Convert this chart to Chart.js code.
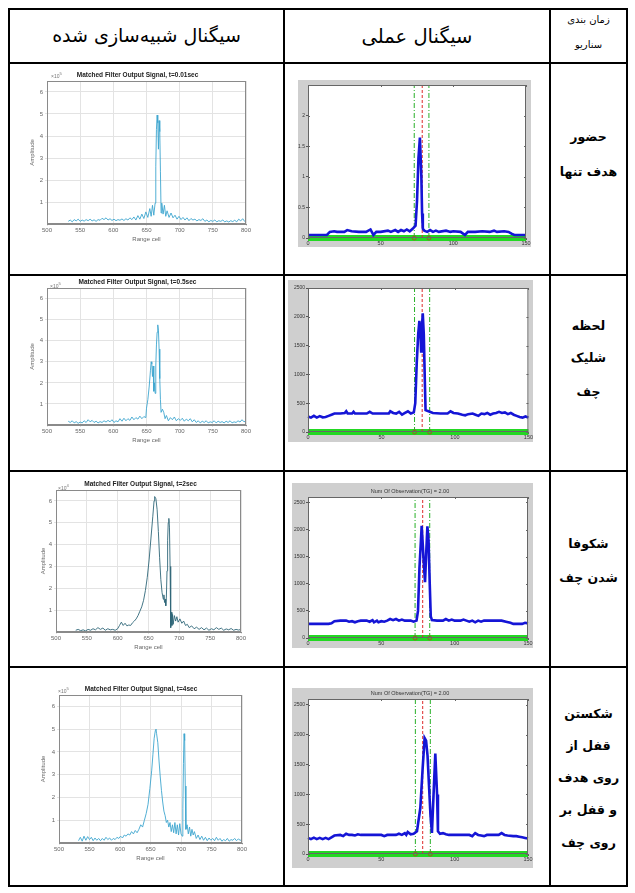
<!DOCTYPE html>
<html lang="fa">
<head>
<meta charset="utf-8">
<script src="https://cdn.jsdelivr.net/npm/chart.js@4.4.1/dist/chart.umd.min.js"></script>
<style>
html, body { margin: 0; padding: 0; background: #fff; width: 635px; height: 893px; overflow: hidden; }
#page { position: relative; width: 635px; height: 893px; }
.ln { position: absolute; background: #000; }
.txt { position: absolute; font-family: "DejaVu Sans", sans-serif; color: #000; direction: rtl; text-align: center; white-space: nowrap; }
.side { font-weight: bold; font-size: 12.5px; line-height: 20px; height: 20px; left: 551px; width: 75px; }
.exp { position: absolute; font: 5px "Liberation Sans", sans-serif; color: #777; }
canvas { position: absolute; }
.meas { background: #cfcfcf; }
</style>
</head>
<body>
<div id="page">
  <!-- grille du tableau -->
  <div class="ln" style="left:8px;top:8px;width:620px;height:2px"></div>
  <div class="ln" style="left:8px;top:62px;width:620px;height:2px"></div>
  <div class="ln" style="left:8px;top:274px;width:620px;height:2px"></div>
  <div class="ln" style="left:8px;top:470px;width:620px;height:2px"></div>
  <div class="ln" style="left:8px;top:666px;width:620px;height:2px"></div>
  <div class="ln" style="left:8px;top:885px;width:620px;height:2px"></div>
  <div class="ln" style="left:8px;top:8px;width:2px;height:879px"></div>
  <div class="ln" style="left:283px;top:8px;width:2px;height:879px"></div>
  <div class="ln" style="left:549px;top:8px;width:2px;height:879px"></div>
  <div class="ln" style="left:626px;top:8px;width:2px;height:879px"></div>

  <!-- en-têtes -->
  <div class="txt" style="left:10px;width:273px;top:22px;font-size:19px;line-height:26px">سیگنال شبیه‌سازی شده</div>
  <div class="txt" style="left:285px;width:264px;top:24px;font-size:19.5px;line-height:26px">سیگنال عملی</div>
  <div class="txt" style="left:551px;width:75px;top:12px;font-size:10px;line-height:16px">زمان بندی</div>
  <div class="txt" style="left:551px;width:75px;top:37px;font-size:10px;line-height:16px">سناریو</div>

  <!-- scénarios -->
  <div class="txt side" style="top:127px">حضور</div>
  <div class="txt side" style="top:162px">هدف تنها</div>
  <div class="txt side" style="top:316px">لحظه</div>
  <div class="txt side" style="top:348px">شلیک</div>
  <div class="txt side" style="top:382px">چف</div>
  <div class="txt side" style="top:534px">شکوفا</div>
  <div class="txt side" style="top:568px">شدن چف</div>
  <div class="txt side" style="top:704px">شکستن</div>
  <div class="txt side" style="top:736px">قفل از</div>
  <div class="txt side" style="top:768px">روی هدف</div>
  <div class="txt side" style="top:800px">و قفل بر</div>
  <div class="txt side" style="top:833px">روی چف</div>

  <canvas id="sim1"></canvas>
  <canvas id="sim2"></canvas>
  <canvas id="sim3"></canvas>
  <canvas id="sim4"></canvas>
  <canvas id="meas1" class="meas"></canvas>
  <canvas id="meas2" class="meas"></canvas>
  <canvas id="meas3" class="meas"></canvas>
  <canvas id="meas4" class="meas"></canvas>

  <span class="exp" style="left:51px;top:71px">×10<sup>5</sup></span>
  <span class="exp" style="left:50px;top:281px">×10<sup>5</sup></span>
  <span class="exp" style="left:58px;top:483px">×10<sup>4</sup></span>
  <span class="exp" style="left:58px;top:686px">×10<sup>5</sup></span>
</div>

<script>
// ==================== DONNÉES : SIGNAL SIMULÉ (range cell, amplitude) ====================
const simTitles = [
    "Matched Filter Output Signal, t=0.01sec",
    "Matched Filter Output Signal, t=0.5sec",
    "Matched Filter Output Signal, t=2sec",
    "Matched Filter Output Signal, t=4sec"
];
const simXTicks = [500, 550, 600, 650, 700, 750, 800];
const simYTicks = [1, 2, 3, 4, 5, 6];

const simT001 = [
    [532,0.12],[535,0.18],[538,0.1],[541,0.2],[544,0.14],[547,0.22],[550,0.12],[553,0.18],[556,0.13],[559,0.2],
    [562,0.15],[565,0.22],[568,0.14],[571,0.19],[574,0.12],[577,0.2],[580,0.17],[583,0.26],[586,0.2],[589,0.28],
    [592,0.18],[595,0.24],[598,0.16],[601,0.22],[604,0.15],[607,0.2],[610,0.17],[613,0.23],[616,0.16],[619,0.24],
    [622,0.18],[625,0.28],[628,0.2],[631,0.32],[634,0.18],[637,0.38],[640,0.22],[643,0.45],[646,0.25],[649,0.55],
    [652,0.3],[655,0.7],[657,0.35],[659,0.85],[661,0.4],[663,0.95],[664,2.6],[665,4.3],[666,4.95],[667,4.6],
    [668,3.4],[669,4.7],[670,4.2],[671,2.4],[672,0.5],[673,0.95],[675,0.45],[677,0.85],[679,0.35],[681,0.6],
    [684,0.3],[687,0.5],[690,0.28],[693,0.4],[696,0.22],[699,0.35],[702,0.2],[705,0.3],[708,0.18],[711,0.28],
    [714,0.15],[717,0.25],[720,0.18],[723,0.22],[726,0.14],[729,0.2],[732,0.16],[735,0.24],[738,0.12],[741,0.18],
    [744,0.1],[747,0.16],[750,0.12],[753,0.18],[756,0.1],[759,0.15],[762,0.12],[765,0.18],[768,0.1],[771,0.14],
    [774,0.09],[777,0.15],[780,0.11],[783,0.17],[786,0.1],[789,0.22],[792,0.14],[795,0.24],[798,0.12],[800,0.15]
];

const simT05 = [
    [532,0.18],[535,0.12],[538,0.2],[541,0.1],[544,0.16],[547,0.08],[550,0.14],[553,0.1],[556,0.2],[559,0.12],
    [562,0.25],[565,0.15],[568,0.22],[571,0.12],[574,0.18],[577,0.1],[580,0.16],[583,0.12],[586,0.2],[589,0.14],
    [592,0.22],[595,0.15],[598,0.25],[601,0.12],[604,0.2],[607,0.15],[610,0.3],[613,0.18],[616,0.32],[619,0.2],
    [622,0.3],[625,0.22],[628,0.38],[631,0.25],[634,0.35],[637,0.28],[640,0.42],[643,0.3],[646,0.4],[649,0.35],
    [650,0.8],[652,1.2],[654,1.8],[656,2.6],[657,3.0],[658,2.9],[659,2.3],[660,2.8],[661,1.6],[662,2.0],
    [663,1.5],[664,2.8],[665,3.8],[666,4.4],[667,4.75],[668,4.5],[669,3.6],[670,2.2],[671,1.2],[672,0.6],
    [674,0.75],[676,0.6],[678,0.3],[680,0.45],[683,0.2],[686,0.35],[689,0.25],[692,0.38],[695,0.2],[698,0.3],
    [701,0.22],[704,0.32],[707,0.18],[710,0.28],[713,0.2],[716,0.3],[719,0.15],[722,0.25],[725,0.12],[728,0.2],
    [731,0.1],[734,0.18],[737,0.12],[740,0.2],[743,0.1],[746,0.15],[749,0.12],[752,0.2],[755,0.1],[758,0.18],
    [761,0.12],[764,0.16],[767,0.1],[770,0.18],[773,0.12],[776,0.2],[779,0.1],[782,0.15],[785,0.12],[788,0.2],
    [791,0.14],[794,0.25],[797,0.15],[800,0.2]
];

const simT2 = [
    [532,0.08],[536,0.12],[540,0.06],[544,0.1],[548,0.05],[552,0.12],[556,0.08],[560,0.15],[564,0.1],[568,0.2],
    [572,0.12],[576,0.18],[580,0.08],[584,0.15],[588,0.1],[592,0.12],[596,0.08],[600,0.15],[603,0.3],[606,0.45],
    [609,0.3],[612,0.4],[615,0.28],[618,0.32],[621,0.3],[624,0.42],[627,0.5],[630,0.6],[633,0.75],[636,0.95],
    [639,1.15],[642,1.45],[645,1.9],[648,2.5],[651,3.3],[654,4.3],[657,5.3],[659,6.0],[660,6.2],[662,6.1],
    [664,5.6],[666,4.6],[668,3.4],[670,2.4],[672,1.8],[674,1.5],[675,1.7],[676,1.35],[677,1.5],[678,1.2],
    [679,1.6],[680,2.8],[681,4.2],[682,5.0],[683,5.2],[684,4.8],[685,3.0],[686,0.2],[687,0.9],[688,0.3],
    [689,0.8],[690,0.35],[692,0.75],[694,0.5],[696,0.7],[698,0.45],[701,0.6],[704,0.4],[707,0.5],[710,0.3],
    [713,0.35],[716,0.2],[720,0.28],[724,0.15],[728,0.22],[732,0.12],[736,0.2],[740,0.1],[744,0.18],[748,0.08],
    [752,0.15],[756,0.1],[760,0.2],[764,0.12],[768,0.18],[772,0.08],[776,0.14],[780,0.1],[784,0.16],[788,0.08],
    [792,0.12],[796,0.09],[800,0.12]
];

const simT4 = [
    [532,0.1],[535,0.25],[538,0.08],[541,0.3],[544,0.12],[547,0.28],[550,0.15],[553,0.25],[556,0.1],[559,0.22],
    [562,0.12],[565,0.2],[568,0.1],[571,0.2],[574,0.12],[577,0.25],[580,0.15],[583,0.22],[586,0.12],[589,0.2],
    [592,0.15],[595,0.25],[598,0.2],[601,0.3],[604,0.22],[607,0.35],[610,0.3],[613,0.4],[616,0.35],[619,0.5],
    [622,0.4],[625,0.55],[628,0.45],[631,0.6],[634,0.8],[637,0.7],[640,1.0],[643,1.3],[646,1.7],[649,2.4],
    [652,3.2],[654,3.9],[656,4.6],[658,4.95],[659,5.0],[660,4.8],[662,4.4],[664,3.6],[666,2.9],[668,2.3],
    [670,1.8],[672,1.4],[674,1.2],[676,0.9],[678,1.0],[680,0.7],[682,0.9],[684,0.5],[686,0.8],[688,0.45],
    [690,0.9],[692,0.4],[694,0.8],[696,0.35],[698,0.85],[700,0.4],[702,0.3],[703,1.5],[704,3.5],[705,4.8],
    [706,4.5],[707,2.5],[708,0.6],[710,0.8],[712,0.4],[714,0.7],[716,0.3],[718,0.6],[720,0.35],[722,0.5],
    [725,0.2],[728,0.35],[731,0.15],[734,0.3],[737,0.12],[740,0.25],[743,0.1],[746,0.22],[749,0.12],[752,0.2],
    [755,0.1],[758,0.25],[761,0.12],[764,0.2],[767,0.08],[770,0.15],[773,0.1],[776,0.2],[779,0.08],[782,0.15],
    [785,0.12],[788,0.2],[791,0.1],[794,0.18],[797,0.12],[800,0.15]
];

// ==================== DONNÉES : SIGNAL MESURÉ (cellule, amplitude) ====================
const measTitles = ["", "", "Num Of Observation(TG) = 2.00", "Num Of Observation(TG) = 2.00"];
const measYMax = [2.5, 2500, 2600, 2600];
const measYTicks = [
    [0, 0.5, 1, 1.5, 2],
    [0, 500, 1000, 1500, 2000, 2500],
    [0, 500, 1000, 1500, 2000, 2500],
    [0, 500, 1000, 1500, 2000, 2500]
];
const measXTicks = [0, 50, 100, 150];
const gateLeft = [73.1, 72.5, 73.0, 73.2];
const gateCenter = [78.6, 77.7, 78.2, 78.2];
const gateRight = [83.2, 82.8, 83.0, 83.4];
const floorX = [0, 150];

const measPresence = [
    [0,0.05],[5,0.05],[10,0.05],[13,0.05],[15,0.1],[18,0.11],[20,0.1],[25,0.1],[27,0.13],[30,0.11],
    [35,0.1],[40,0.1],[43,0.14],[45,0.05],[47,0.1],[50,0.1],[55,0.12],[57,0.1],[60,0.13],[62,0.1],
    [64,0.13],[66,0.11],[68,0.14],[70,0.11],[72,0.15],[74,0.2],[75,0.6],[76,1.3],[77,1.64],[78,1.0],
    [78.5,0.4],[79,0.15],[80,0.12],[82,0.1],[84,0.13],[86,0.1],[88,0.12],[90,0.1],[95,0.12],[98,0.1],
    [100,0.11],[105,0.1],[108,0.05],[110,0.1],[115,0.1],[120,0.11],[125,0.1],[128,0.12],[130,0.1],[135,0.11],
    [138,0.1],[140,0.07],[142,0.05],[145,0.05],[150,0.05]
];

const measLaunch = [
    [0,270],[2,250],[4,280],[6,250],[8,275],[10,255],[12,260],[14,280],[16,300],[18,320],
    [22,320],[25,330],[26,360],[27,320],[30,320],[31,350],[32,320],[40,320],[42,350],[44,320],
    [55,320],[56,360],[58,330],[60,320],[62,350],[64,300],[66,330],[68,360],[70,320],[72,340],
    [73,500],[74,1200],[75,1700],[75.8,1930],[76.5,1750],[77,1400],[77.5,1800],[78.1,2060],[78.8,1700],[79.5,900],
    [80,380],[82,360],[85,330],[90,320],[95,320],[97,360],[99,330],[102,320],[105,300],[107,290],
    [109,310],[112,320],[114,300],[116,280],[118,320],[120,310],[122,330],[124,300],[126,320],[128,330],
    [130,350],[132,330],[134,340],[136,310],[138,330],[140,300],[142,280],[144,260],[146,250],[148,270],
    [150,250]
];

const measBloom = [
    [0,260],[5,260],[10,260],[14,260],[16,270],[18,310],[22,320],[26,320],[28,300],[30,310],
    [32,290],[34,310],[36,320],[40,320],[42,300],[44,330],[45,290],[47,320],[48,290],[50,310],
    [52,300],[54,320],[56,350],[58,330],[60,350],[62,320],[64,340],[66,320],[70,320],[72,300],
    [74,320],[75,500],[76,1300],[77,1800],[77.5,2070],[78.3,1700],[79,1350],[79.8,1030],[80.5,1500],[81.4,2060],
    [82.2,1800],[83,1000],[83.7,400],[84.5,330],[88,320],[92,320],[94,350],[96,320],[98,340],[100,320],
    [104,320],[106,340],[108,320],[110,300],[112,320],[114,290],[116,320],[118,300],[120,320],[124,320],
    [128,320],[132,320],[135,300],[138,280],[140,260],[144,260],[146,260],[148,280],[150,270]
];

const measBreak = [
    [0,270],[2,250],[4,275],[6,250],[8,270],[10,250],[12,270],[14,250],[16,280],[18,310],
    [22,320],[24,300],[26,340],[28,320],[30,320],[32,310],[34,330],[36,320],[40,320],[50,320],
    [52,300],[54,320],[60,320],[62,340],[64,320],[66,350],[67,320],[68,370],[70,330],[72,340],
    [74.3,380],[76.6,775],[78.2,1450],[79.5,1945],[80.5,1900],[81.5,1650],[82.5,1150],[83.5,650],[84.5,355],[85.7,1050],
    [86.8,1685],[88,1000],[88.6,380],[90,340],[92,350],[94,330],[96,320],[100,320],[105,320],[110,320],
    [112,300],[114,350],[116,320],[118,310],[120,300],[122,320],[126,320],[130,320],[132,350],[134,320],
    [136,310],[140,300],[142,300],[144,290],[146,280],[148,270],[150,260]
];

// ==================== OUTILS ====================
const toXY = arr => arr.map(p => ({ x: p[0], y: p[1] }));
const fixedTicks = list => s => { s.ticks = list.map(v => ({ value: v })); };
const plainLabel = v => String(v);

// cadre complet autour de la zone de tracé (style MATLAB)
const boxPlugin = {
    id: "plotBox",
    beforeDraw(chart, args, opts) {
        if (!opts.fill) return;
        const a = chart.chartArea;
        chart.ctx.save();
        chart.ctx.fillStyle = opts.fill;
        chart.ctx.fillRect(a.left, a.top, a.right - a.left, a.bottom - a.top);
        chart.ctx.restore();
    },
    afterDraw(chart, args, opts) {
        const a = chart.chartArea;
        const ctx = chart.ctx;
        ctx.save();
        ctx.strokeStyle = opts.color || "#777";
        ctx.lineWidth = 1;
        ctx.strokeRect(a.left + 0.5, a.top + 0.5, a.right - a.left - 1, a.bottom - a.top - 1);
        // petites graduations à droite et en haut
        if (opts.mirrorTicks) {
            const xs = chart.scales.x, ys = chart.scales.y;
            ctx.beginPath();
            ys.ticks.forEach(t => {
                const py = Math.round(ys.getPixelForValue(t.value)) + 0.5;
                ctx.moveTo(a.left, py); ctx.lineTo(a.left + 2, py);
                ctx.moveTo(a.right, py); ctx.lineTo(a.right - 2, py);
            });
            xs.ticks.forEach(t => {
                const px = Math.round(xs.getPixelForValue(t.value)) + 0.5;
                ctx.moveTo(px, a.top); ctx.lineTo(px, a.top + 2);
            });
            ctx.stroke();
        }
        ctx.restore();
    }
};

function setupCanvas(id, box) {
    const c = document.getElementById(id);
    c.width = box.w;
    c.height = box.h;
    c.style.left = box.x + "px";
    c.style.top = box.y + "px";
    c.style.width = box.w + "px";
    c.style.height = box.h + "px";
    return c;
}

function paddingFor(box, plot, yW, xH, tH) {
    return {
        left: plot.l - box.x - yW,
        right: box.x + box.w - plot.r,
        top: plot.t - box.y - tH,
        bottom: box.y + box.h - plot.b - xH
    };
}

// ==================== GRAPHIQUE SIMULÉ ====================
function renderSimChart(id, box, plot, yW, series, title, color) {
    const canvas = setupCanvas(id, box);
    const xH = 19;
    const tH = 6.5 * 1.2 + 2;

    new Chart(canvas, {
        type: "line",
        data: {
            datasets: [{
                data: toXY(series),
                borderColor: color,
                borderWidth: 0.9,
                pointRadius: 0,
                tension: 0
            }]
        },
        options: {
            responsive: false,
            animation: false,
            devicePixelRatio: 1,
            layout: { autoPadding: false, padding: paddingFor(box, plot, yW, xH, tH) },
            plugins: {
                legend: { display: false },
                tooltip: { enabled: false },
                title: {
                    display: true,
                    text: title,
                    color: "#222",
                    font: { family: "Liberation Sans", size: 6.5, weight: "bold" },
                    padding: { top: 0, bottom: 2 }
                },
                plotBox: { color: "#8a8a8a" }
            },
            scales: {
                x: {
                    type: "linear",
                    min: simXTicks[0],
                    max: simXTicks[simXTicks.length - 1],
                    afterFit: s => { s.height = xH; },
                    afterBuildTicks: fixedTicks(simXTicks),
                    ticks: { color: "#666", font: { family: "Liberation Sans", size: 6 }, maxRotation: 0, padding: 1, callback: plainLabel },
                    grid: { color: "#e3e3e3", tickLength: 2 },
                    border: { color: "#8a8a8a" },
                    title: { display: true, text: "Range cell", color: "#666", font: { family: "Liberation Sans", size: 6 }, padding: 0 }
                },
                y: {
                    min: 0,
                    max: 6.5,
                    afterFit: s => { s.width = yW; },
                    afterBuildTicks: fixedTicks(simYTicks),
                    ticks: { color: "#666", font: { family: "Liberation Sans", size: 6 }, padding: 2, callback: plainLabel },
                    grid: { color: "#e3e3e3", tickLength: 2 },
                    border: { color: "#8a8a8a" },
                    title: { display: true, text: "Amplitude", color: "#666", font: { family: "Liberation Sans", size: 6 }, padding: 0 }
                }
            }
        },
        plugins: [boxPlugin]
    });
}

// ==================== GRAPHIQUE MESURÉ ====================
function renderMeasChart(id, box, plot, idx, series) {
    const canvas = setupCanvas(id, box);
    const title = measTitles[idx];
    const ymax = measYMax[idx];
    const tH = title ? 5.5 * 1.2 + 3 : 0;
    const yW = plot.l - box.x;
    const xH = box.y + box.h - plot.b;
    const vline = x => [{ x: x, y: 0 }, { x: x, y: ymax }];

    new Chart(canvas, {
        type: "line",
        data: {
            datasets: [
                { data: toXY(series), borderColor: "#1515d6", borderWidth: 2.6, pointRadius: 0, tension: 0 },
                {
                    data: [{ x: gateLeft[idx], y: 0 }, { x: gateRight[idx], y: 0 }],
                    showLine: false, pointRadius: 2, pointBorderColor: "#b84020", pointBackgroundColor: "rgba(0,0,0,0)", pointBorderWidth: 0.8
                },
                { data: vline(gateCenter[idx]), borderColor: "#dd2a2a", borderWidth: 1, borderDash: [3, 2], pointRadius: 0 },
                { data: vline(gateLeft[idx]), borderColor: "#28b028", borderWidth: 1, borderDash: [5, 2, 1, 2], pointRadius: 0 },
                { data: vline(gateRight[idx]), borderColor: "#28b028", borderWidth: 1, borderDash: [5, 2, 1, 2], pointRadius: 0 },
                { data: floorX.map(x => ({ x: x, y: 0 })), borderColor: "#22d822", borderWidth: 6, pointRadius: 0 }
            ]
        },
        options: {
            responsive: false,
            animation: false,
            devicePixelRatio: 1,
            clip: false,
            layout: { autoPadding: false, padding: paddingFor(box, plot, yW, xH, tH) },
            plugins: {
                legend: { display: false },
                tooltip: { enabled: false },
                title: {
                    display: !!title,
                    text: title,
                    color: "#333",
                    font: { family: "Liberation Sans", size: 5.5, weight: "normal" },
                    padding: { top: 1, bottom: 2 }
                },
                plotBox: { color: "#666", fill: "#ffffff", mirrorTicks: true }
            },
            scales: {
                x: {
                    type: "linear",
                    min: 0,
                    max: 150,
                    afterFit: s => { s.height = xH; },
                    afterBuildTicks: fixedTicks(measXTicks),
                    ticks: { color: "#333", font: { family: "Liberation Sans", size: 5.5 }, maxRotation: 0, padding: 0, callback: plainLabel },
                    grid: { drawOnChartArea: false, tickLength: 2, color: "#555" },
                    border: { color: "#666" }
                },
                y: {
                    min: 0,
                    max: ymax,
                    afterFit: s => { s.width = yW; },
                    afterBuildTicks: fixedTicks(measYTicks[idx]),
                    ticks: { color: "#333", font: { family: "Liberation Sans", size: 5 }, padding: 1, callback: plainLabel },
                    grid: { drawOnChartArea: false, tickLength: 2, color: "#555" },
                    border: { color: "#666" }
                }
            }
        },
        plugins: [boxPlugin]
    });
}

// ==================== RENDU ====================
renderSimChart("sim1", { x: 22, y: 68, w: 238, h: 178 }, { l: 47, t: 81, r: 246, b: 224 }, 18, simT001, simTitles[0], "#3ea6cf");
renderSimChart("sim2", { x: 22, y: 278, w: 238, h: 168 }, { l: 47, t: 288, r: 246, b: 425 }, 18, simT05, simTitles[1], "#3ea6cf");
renderSimChart("sim3", { x: 28, y: 477, w: 225, h: 178 }, { l: 56, t: 490, r: 241, b: 632 }, 16, simT2, simTitles[2], "#2f6678");
renderSimChart("sim4", { x: 28, y: 680, w: 225, h: 190 }, { l: 59, t: 695, r: 242, b: 843 }, 19, simT4, simTitles[3], "#3ea6cf");

renderMeasChart("meas1", { x: 298, y: 80, w: 233, h: 167 }, { l: 308, t: 85, r: 526, b: 238 }, 0, measPresence);
renderMeasChart("meas2", { x: 288, y: 280, w: 245, h: 162 }, { l: 308, t: 288, r: 530, b: 432 }, 1, measLaunch);
renderMeasChart("meas3", { x: 292, y: 483, w: 241, h: 165 }, { l: 308, t: 497, r: 528, b: 638 }, 2, measBloom);
renderMeasChart("meas4", { x: 292, y: 688, w: 241, h: 180 }, { l: 308, t: 699, r: 528, b: 854 }, 3, measBreak);
</script>
</body>
</html>
